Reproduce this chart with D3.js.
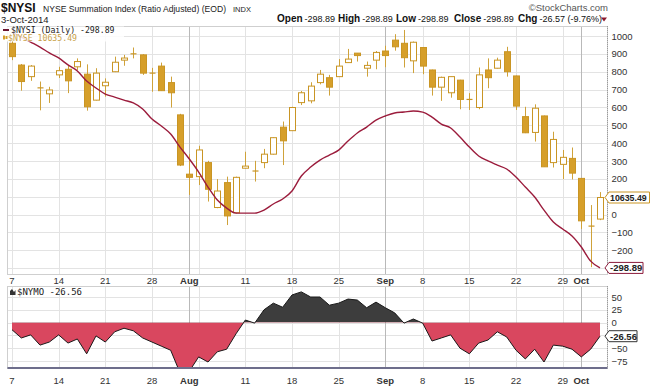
<!DOCTYPE html>
<html>
<head>
<meta charset="utf-8">
<script src="https://cdn.jsdelivr.net/npm/d3@7"></script>
<style>
  body { margin: 0; background: #fff; }
  svg { display: block; font-family: "Liberation Sans", Arial, sans-serif; }
</style>
</head>
<body>
<svg id="chart" width="650" height="391"></svg>
<script>
// trading days shown on the chart
const dates = [
  '2014-07-07','2014-07-08','2014-07-09','2014-07-10','2014-07-11','2014-07-14','2014-07-15','2014-07-16',
  '2014-07-17','2014-07-18','2014-07-21','2014-07-22','2014-07-23','2014-07-24','2014-07-25','2014-07-28',
  '2014-07-29','2014-07-30','2014-07-31','2014-08-01','2014-08-04','2014-08-05','2014-08-06','2014-08-07',
  '2014-08-08','2014-08-11','2014-08-12','2014-08-13','2014-08-14','2014-08-15','2014-08-18','2014-08-19',
  '2014-08-20','2014-08-21','2014-08-22','2014-08-25','2014-08-26','2014-08-27','2014-08-28','2014-08-29',
  '2014-09-02','2014-09-03','2014-09-04','2014-09-05','2014-09-08','2014-09-09','2014-09-10','2014-09-11',
  '2014-09-12','2014-09-15','2014-09-16','2014-09-17','2014-09-18','2014-09-19','2014-09-22','2014-09-23',
  '2014-09-24','2014-09-25','2014-09-26','2014-09-29','2014-09-30','2014-10-01','2014-10-02','2014-10-03'
];

// $NYSE candles (overlay, no axis of its own)
const nyseOpen = [
  11075, 11013, 10980, 10948, 10931, 10985, 11001, 11008, 10987, 10913, 10954, 10994, 11027, 11043, 11042, 10990,
  11010, 10963, 10871, 10702, 10695, 10735, 10607, 10678, 10592, 10719, 10711, 10735, 10759, 10836, 10826, 10906,
  10911, 10963, 10977, 10980, 11020, 11047, 11004, 11027, 11053, 11084, 11075, 11025, 11063, 10999, 10950, 10934,
  10970, 10915, 10892, 10999, 11004, 11051, 10982, 10866, 10821, 10868, 10735, 10730, 10747, 10690, 10554, 10574
];
const nyseHigh = [
  11084, 11016, 11013, 10966, 10951, 11008, 11013, 11032, 11015, 11004, 10975, 11037, 11042, 11063, 11044, 11005,
  11020, 10980, 10874, 10759, 10783, 10740, 10688, 10695, 10695, 10766, 10740, 10774, 10807, 10852, 10894, 10939,
  10964, 10999, 10985, 11030, 11059, 11047, 11023, 11053, 11068, 11101, 11113, 11080, 11063, 11000, 10980, 10980,
  10971, 10933, 11006, 11032, 11034, 11065, 10983, 10894, 10901, 10869, 10823, 10771, 10778, 10691, 10614, 10651
];
const nyseLow = [
  11027, 10940, 10968, 10884, 10905, 10976, 10933, 10999, 10883, 10912, 10923, 10993, 11011, 11032, 10985, 10937,
  10939, 10892, 10725, 10643, 10671, 10624, 10605, 10557, 10590, 10718, 10681, 10719, 10758, 10728, 10825, 10899,
  10904, 10958, 10926, 10979, 11019, 11023, 10980, 11001, 11007, 11054, 11006, 10990, 10987, 10926, 10911, 10920,
  10887, 10885, 10887, 10947, 11003, 10980, 10885, 10819, 10795, 10723, 10721, 10688, 10687, 10546, 10437, 10571
];
const nyseClose = [
  11037, 10966, 11010, 10947, 10942, 10997, 10968, 11023, 10894, 10990, 10964, 11021, 11033, 11045, 10990, 10989,
  10940, 10934, 10728, 10693, 10771, 10659, 10654, 10583, 10693, 10725, 10710, 10759, 10806, 10797, 10892, 10934,
  10953, 10987, 10950, 11010, 11030, 11040, 11012, 11049, 11040, 11065, 11034, 11078, 11010, 10950, 10978, 10980,
  10915, 10914, 10985, 10977, 11027, 10994, 10896, 10820, 10890, 10723, 10801, 10750, 10705, 10569, 10553, 10635.49
];

// $NYSI summation index (right axis)
const nysi = [
  1022, 994, 966, 938, 905, 877, 838, 804, 748, 709, 675, 658, 641, 625, 591, 535,
  496, 451, 378, 311, 238, 154, 81, 36, 8, 8, 8, 25, 59, 87, 132, 216,
  266, 305, 333, 361, 412, 457, 490, 529, 552, 569, 574, 580, 574, 546, 507, 485,
  434, 378, 328, 300, 277, 255, 210, 154, 98, 25, -42, -81, -120, -182, -261, -298.89
];

// $NYMO oscillator (lower panel)
const nymo = [
  -14, -30, -24, -44, -38, -24, -40, -32, -61, -26, -38, -18, -11, -16, -30, -38,
  -46, -54, -98, -95, -67, -77, -57, -52, -22, 5, -1, 25, 38, 30, 54, 60,
  50, 50, 34, 38, 46, 44, 29, 40, 29, 19, -1, 7, -1, -36, -30, -24,
  -50, -61, -40, -34, -18, -28, -54, -71, -52, -77, -44, -46, -52, -67, -52, -26.56
];

const gridDates = ['2014-07-07','2014-07-14','2014-07-21','2014-07-28','2014-08-04','2014-08-11','2014-08-18',
  '2014-08-25','2014-09-08','2014-09-15','2014-09-22','2014-09-29'];
const monthDates = ['2014-08-01','2014-09-02','2014-10-01'];
const tickDates = ['2014-07-07','2014-07-14','2014-07-21','2014-07-28','2014-08-01','2014-08-11','2014-08-18',
  '2014-08-25','2014-09-02','2014-09-08','2014-09-15','2014-09-22','2014-09-29','2014-10-01'];
const tickLabels = ['7','14','21','28','Aug','11','18','25','Sep','8','15','22','29','Oct'];
const nysiGrid = [1000, 900, 800, 700, 600, 500, 400, 300, 200, 100, 0, -100, -200, -300];
const nysiLabels = [1000, 900, 800, 700, 600, 500, 400, 300, 200, 0, -100, -200];
const nymoGrid = [50, 25, 0, -25, -50, -75];
const nymoLabels = [50, 25, 0, -50, -75];

const svg = d3.select('#chart');
const left = 7.5, right = 607.5;
const main = { top: 26, bottom: 274 };
const low = { top: 286, bottom: 368 };

const x = d3.scalePoint().domain(dates).range([12, 600]);
const yNysi = d3.scaleLinear().domain([-333, 1056]).range([main.bottom, main.top]);
const yNyse = d3.scaleLinear().domain([10417.5, 11124.3]).range([main.bottom, main.top]);
const yNymo = d3.scaleLinear().domain([-88.7, 71.5]).range([low.bottom, low.top]);

// ---- header ----
svg.append('text').attr('x', 1).attr('y', 11.5).style('font-weight', 'bold').style('font-size', '12px')
  .attr('fill', '#111').text('$NYSI');
svg.append('text').attr('x', 43).attr('y', 11.5).style('font-size', '9px').attr('fill', '#222')
  .attr('textLength', 183).attr('lengthAdjust', 'spacingAndGlyphs')
  .text('NYSE Summation Index (Ratio Adjusted) (EOD)');
svg.append('text').attr('x', 233).attr('y', 11.5).style('font-size', '7.5px').attr('fill', '#222').text('INDX');
svg.append('text').attr('x', 1).attr('y', 23).style('font-size', '9.5px').attr('fill', '#222').text('3-Oct-2014');
svg.append('text').attr('x', 608).attr('y', 11).attr('text-anchor', 'end').style('font-size', '9.5px')
  .attr('fill', '#555').text('\u00a9StockCharts.com');

const stats = [
  ['Open', '-298.89', 277], ['High', '-298.89', 338], ['Low', '-298.89', 396],
  ['Close', '-298.89', 454], ['Chg', '-26.57 (-9.76%)', 518]
];
stats.forEach(s => {
  const t = svg.append('text').attr('x', s[2]).attr('y', 22).attr('fill', '#111');
  t.append('tspan').style('font-weight', 'bold').style('font-size', '10px').text(s[0]);
  t.append('tspan').style('font-size', '9px').attr('dx', 2).text(s[1]);
});
svg.append('path').attr('d', 'M601,17.5 L607,17.5 L604,21.5 Z').attr('fill', '#8b1a2e');

// ---- panels ----
function drawPanel(p, ticks, yScale) {
  const g = svg.append('g');
  g.selectAll('.hg').data(ticks).enter().append('line')
    .attr('x1', left).attr('x2', right)
    .attr('y1', d => Math.round(yScale(d)) + 0.5).attr('y2', d => Math.round(yScale(d)) + 0.5)
    .attr('stroke', '#e3e3e3');
  g.selectAll('.vg').data(gridDates).enter().append('line')
    .attr('x1', d => Math.round(x(d)) + 0.5).attr('x2', d => Math.round(x(d)) + 0.5)
    .attr('y1', p.top).attr('y2', p.bottom).attr('stroke', '#e3e3e3');
  g.selectAll('.mg').data(monthDates).enter().append('line')
    .attr('x1', d => Math.round(x(d)) + 0.5).attr('x2', d => Math.round(x(d)) + 0.5)
    .attr('y1', p.top).attr('y2', p.bottom).attr('stroke', '#b9b9b9');
  g.append('rect').attr('x', left).attr('y', p.top + 0.5).attr('width', right - left)
    .attr('height', p.bottom - p.top).attr('fill', 'none').attr('stroke', '#cfcfcf');
  g.append('line').attr('x1', right).attr('x2', right).attr('y1', p.top).attr('y2', p.bottom)
    .attr('stroke', '#9a9a9a').attr('stroke-dasharray', '1,1');
  return g;
}
drawPanel(main, nysiGrid, yNysi);
drawPanel(low, nymoGrid, yNymo);

// x axis labels
function xLabels(yPos) {
  svg.selectAll(null).data(tickDates).enter().append('text')
    .attr('x', d => x(d)).attr('y', yPos).attr('text-anchor', 'middle')
    .style('font-size', '9.5px')
    .style('font-weight', d => monthDates.includes(d) ? 'bold' : 'normal')
    .attr('fill', '#333')
    .text((d, i) => tickLabels[i]);
}
xLabels(284);
xLabels(384);

// right axes
const yAxisMain = d3.axisRight(yNysi).tickValues(nysiLabels).tickFormat(d3.format('d')).tickSize(0).tickPadding(4);
const gm = svg.append('g').attr('transform', `translate(${right},0)`).call(yAxisMain);
gm.select('.domain').remove();
gm.selectAll('text').style('font-size', '9.5px').attr('fill', '#333').style('font-family', '"Liberation Sans", Arial, sans-serif');

const yAxisLow = d3.axisRight(yNymo).tickValues(nymoLabels).tickFormat(d3.format('d')).tickSize(0).tickPadding(4);
const gl = svg.append('g').attr('transform', `translate(${right},0)`).call(yAxisLow);
gl.select('.domain').remove();
gl.selectAll('text').style('font-size', '9.5px').attr('fill', '#333').style('font-family', '"Liberation Sans", Arial, sans-serif');

// ---- candles ----
const cw = 6;
const candles = svg.append('g');
dates.forEach((d, i) => {
  const cx = Math.round(x(d)) + 0.5;
  const up = nyseClose[i] >= nyseOpen[i];
  candles.append('line').attr('x1', cx).attr('x2', cx)
    .attr('y1', yNyse(nyseHigh[i])).attr('y2', yNyse(nyseLow[i]))
    .attr('stroke', '#cfa23a').attr('stroke-width', 1);
  const yTop = yNyse(Math.max(nyseOpen[i], nyseClose[i]));
  const yBot = yNyse(Math.min(nyseOpen[i], nyseClose[i]));
  const h = Math.max(yBot - yTop, 1);
  if (h <= 1.2) {
    candles.append('line').attr('x1', cx - cw / 2).attr('x2', cx + cw / 2)
      .attr('y1', yTop).attr('y2', yTop).attr('stroke', '#c99524').attr('stroke-width', 1.2);
  } else {
    candles.append('rect').attr('x', cx - cw / 2).attr('y', yTop).attr('width', cw).attr('height', h)
      .attr('fill', up ? '#fff' : '#d69f2a').attr('stroke', '#c99524').attr('stroke-width', 1);
  }
});

// ---- NYSI line ----
const nysiLine = d3.line().x((d, i) => x(dates[i])).y(d => yNysi(d)).curve(d3.curveMonotoneX);
svg.append('path').datum(nysi).attr('d', nysiLine)
  .attr('fill', 'none').attr('stroke', '#9b1c3c').attr('stroke-width', 1.4);

// ---- NYMO area ----
const defs = svg.append('defs');
const zeroY = yNymo(0);
defs.append('clipPath').attr('id', 'clipUp').append('rect')
  .attr('x', left).attr('y', low.top).attr('width', right - left).attr('height', zeroY - low.top);
defs.append('clipPath').attr('id', 'clipDown').append('rect')
  .attr('x', left).attr('y', zeroY).attr('width', right - left).attr('height', low.bottom - zeroY);
defs.append('clipPath').attr('id', 'clipLow').append('rect')
  .attr('x', left).attr('y', low.top).attr('width', right - left).attr('height', low.bottom - low.top);

const nymoArea = d3.area().x((d, i) => x(dates[i])).y0(zeroY).y1(d => yNymo(d));
const nymoLine = d3.line().x((d, i) => x(dates[i])).y(d => yNymo(d));
svg.append('path').datum(nymo).attr('d', nymoArea).attr('fill', '#3d3d3d').attr('clip-path', 'url(#clipUp)');
svg.append('path').datum(nymo).attr('d', nymoArea).attr('fill', '#d9475f').attr('clip-path', 'url(#clipDown)');
svg.append('path').datum(nymo).attr('d', nymoLine).attr('fill', 'none')
  .attr('stroke', '#1a1a1a').attr('stroke-width', 1).attr('clip-path', 'url(#clipLow)');
svg.append('line').attr('x1', left).attr('x2', right).attr('y1', low.bottom).attr('y2', low.bottom)
  .attr('stroke', '#6e6e8c').attr('stroke-width', 2);

// ---- legends ----
const mono = '"DejaVu Sans Mono", "Liberation Mono", monospace';
svg.append('rect').attr('x', 2).attr('y', 26.5).attr('width', 122).attr('height', 15)
  .attr('fill', '#fff').attr('opacity', 0.85);
svg.append('line').attr('x1', 3).attr('x2', 9).attr('y1', 30).attr('y2', 30)
  .attr('stroke', '#6b1630').attr('stroke-width', 2);
svg.append('text').attr('x', 11).attr('y', 32.5).style('font-family', mono).style('font-size', '8.2px')
  .attr('fill', '#222').text('$NYSI (Daily) -298.89');
svg.append('rect').attr('x', 3).attr('y', 35.5).attr('width', 2).attr('height', 4).attr('fill', '#d69f2a');
svg.append('rect').attr('x', 5.5).attr('y', 36).attr('width', 2).attr('height', 3).attr('fill', '#d69f2a');
svg.append('text').attr('x', 8).attr('y', 41).style('font-family', mono).style('font-size', '8.2px')
  .attr('fill', '#c9a24a').text('$NYSE 10635.49');

svg.append('path').attr('d', 'M10,295 L10,291 L12,289 L14,292 L15.5,290 L15.5,295 Z').attr('fill', '#333');
svg.append('text').attr('x', 17).attr('y', 295).style('font-family', mono).style('font-size', '9px')
  .attr('fill', '#222').text('$NYMO -26.56');

// ---- last value boxes ----
function valueBox(yc, label, color, width, fs) {
  const x0 = 605;
  svg.append('path')
    .attr('d', `M${x0},${yc} L${x0 + 4},${yc - 5.5} L${x0 + width},${yc - 5.5} L${x0 + width},${yc + 5.5} L${x0 + 4},${yc + 5.5} Z`)
    .attr('fill', '#fff').attr('stroke', color).attr('stroke-width', 1);
  svg.append('text').attr('x', x0 + 5).attr('y', yc + 3.5).style('font-size', fs + 'px')
    .style('font-weight', 'bold').attr('fill', '#222').text(label);
}
valueBox(yNyse(nyseClose[nyseClose.length - 1]), '10635.49', '#c99524', 44.5, 8.8);
valueBox(yNysi(nysi[nysi.length - 1]), '-298.89', '#8b1a3a', 38, 9.5);
valueBox(yNymo(nymo[nymo.length - 1]), '-26.56', '#333', 32, 9.5);
</script>
</body>
</html>
